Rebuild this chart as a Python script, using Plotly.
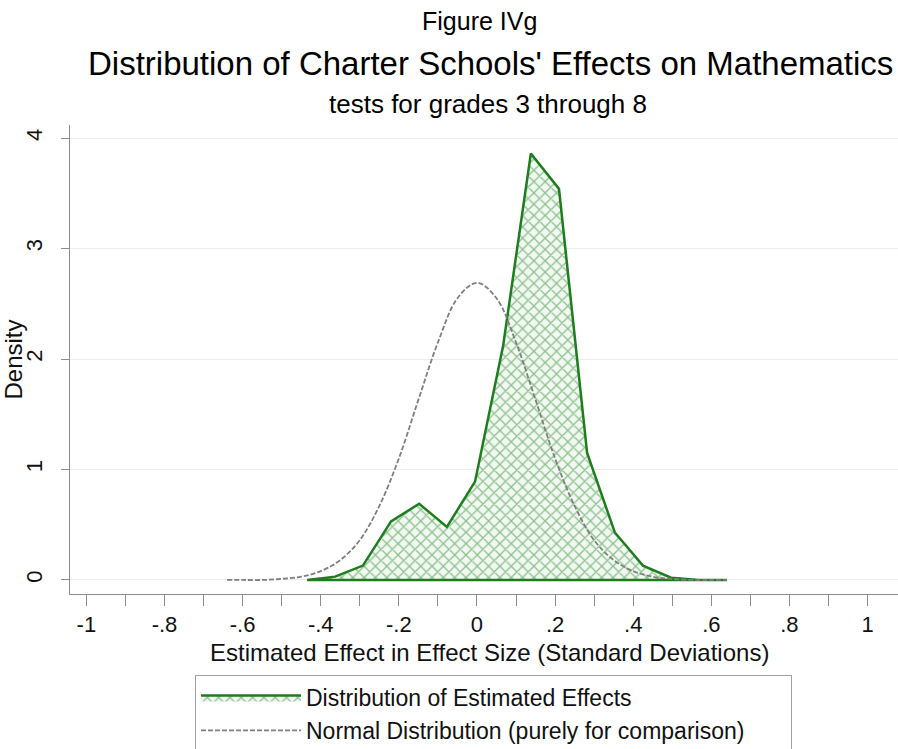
import plotly.graph_objects as go

# ---- data ----
green_x = [-0.435, -0.363, -0.292, -0.220, -0.148, -0.077, -0.005, 0.067,
           0.138, 0.210, 0.282, 0.353, 0.425, 0.497, 0.568, 0.640]
green_y = [0.00, 0.03, 0.13, 0.53, 0.69, 0.48, 0.89, 2.12,
           3.86, 3.54, 1.15, 0.43, 0.13, 0.02, 0.00, 0.00]

norm_x = [-0.64, -0.60, -0.55, -0.50, -0.45, -0.40, -0.35, -0.30, -0.25, -0.20,
          -0.15, -0.10, -0.05, 0.00, 0.05, 0.10, 0.15, 0.20, 0.25, 0.30,
          0.35, 0.40, 0.45, 0.50, 0.55, 0.60, 0.64]
norm_y = [0.00, 0.00, 0.00, 0.01, 0.03, 0.08, 0.18, 0.36, 0.67, 1.10,
          1.63, 2.15, 2.55, 2.69, 2.55, 2.15, 1.63, 1.10, 0.67, 0.36,
          0.18, 0.08, 0.03, 0.01, 0.00, 0.00, 0.00]

x_tickvals = [-1, -0.8, -0.6, -0.4, -0.2, 0, 0.2, 0.4, 0.6, 0.8, 1]
x_ticktext = ["-1", "-.8", "-.6", "-.4", "-.2", "0", ".2", ".4", ".6", ".8", "1"]
y_tickvals = [0, 1, 2, 3, 4]
y_ticktext = ["0", "1", "2", "3", "4"]

series_names = ["Distribution of Estimated Effects",
                "Normal Distribution (purely for comparison)"]

FONT = "Liberation Sans, Arial, Helvetica, sans-serif"
GREEN = "#1e7d1e"
GRAY = "#7f7f7f"
AXIS = "#8c8c8c"

fig = go.Figure()

# closed polygon (curve + baseline back to start)
poly_x = green_x + [green_x[0]]
poly_y = green_y + [green_y[0]]
fig.add_trace(go.Scatter(
    x=poly_x, y=poly_y, mode="lines", name=series_names[0],
    line=dict(color=GREEN, width=2.5),
    fill="toself",
    fillcolor="rgba(0,0,0,0)",
    fillpattern=dict(shape="x", fgcolor="#2a852a", bgcolor="#f1f8f1",
                     size=8, solidity=0.3),
))
fig.add_trace(go.Scatter(
    x=norm_x, y=norm_y, mode="lines", name=series_names[1],
    line=dict(color=GRAY, width=1.8, dash="5px,2px", shape="spline"),
))

W, H = 898, 749
ml, mr, mt, mb = 70, 0, 125, 155
pw, ph = W - ml - mr, H - mt - mb


def px_to_paper_y(py):
    return (H - mb - py) / ph


def px_to_paper_x(px):
    return (px - ml) / pw


annotations = [
    dict(text="Figure IVg", x=px_to_paper_x(479), y=px_to_paper_y(21),
         font=dict(size=25, color="#000000", family=FONT)),
    dict(text="Distribution of Charter Schools' Effects on Mathematics",
         x=px_to_paper_x(490), y=px_to_paper_y(64),
         font=dict(size=33, color="#000000", family=FONT)),
    dict(text="tests for grades 3 through 8",
         x=px_to_paper_x(488), y=px_to_paper_y(104),
         font=dict(size=26, color="#000000", family=FONT)),
    dict(text="Estimated Effect in Effect Size (Standard Deviations)",
         x=px_to_paper_x(489), y=px_to_paper_y(652),
         font=dict(size=24, color="#111111", family=FONT)),
]
for a in annotations:
    a.update(xref="paper", yref="paper", showarrow=False,
             xanchor="center", yanchor="middle")

fig.update_layout(
    width=W, height=H,
    margin=dict(l=ml, r=mr, t=mt, b=mb, autoexpand=False),
    paper_bgcolor="white", plot_bgcolor="white",
    font=dict(family=FONT, color="#111111"),
    annotations=annotations,
    showlegend=True,
    legend=dict(
        x=px_to_paper_x(195), y=px_to_paper_y(675),
        xanchor="left", yanchor="top",
        orientation="h", entrywidth=480, entrywidthmode="pixels",
        itemwidth=100,
        bordercolor="#a0a0a0", borderwidth=1, bgcolor="white",
        font=dict(size=23, family=FONT, color="#111111"),
        tracegroupgap=0,
    ),
    xaxis=dict(
        range=[-1.042, 1.078],
        tickmode="array", tickvals=x_tickvals, ticktext=x_ticktext,
        ticks="outside", ticklen=11, tickcolor=AXIS, tickwidth=1,
        minor=dict(tick0=-1, dtick=0.1, ticks="outside", ticklen=11,
                   tickcolor=AXIS, tickwidth=1, showgrid=False),
        showline=True, linecolor=AXIS, linewidth=1,
        showgrid=False, zeroline=False,
        tickfont=dict(size=22, family=FONT, color="#111111"),
        ticklabelstandoff=0,
    ),
    yaxis=dict(
        range=[-0.127, 4.118],
        tickmode="array", tickvals=y_tickvals, ticktext=y_ticktext,
        tickangle=-90,
        ticks="outside", ticklen=8, tickcolor=AXIS, tickwidth=1,
        showline=True, linecolor=AXIS, linewidth=1,
        showgrid=True, gridcolor="#ececec", gridwidth=1, zeroline=False,
        tickfont=dict(size=22, family=FONT, color="#111111"),
        ticklabelstandoff=10,
        title=dict(text="Density",
                   font=dict(size=24, family=FONT, color="#111111"),
                   standoff=2),
    ),
)

fig.write_html("out.html")
